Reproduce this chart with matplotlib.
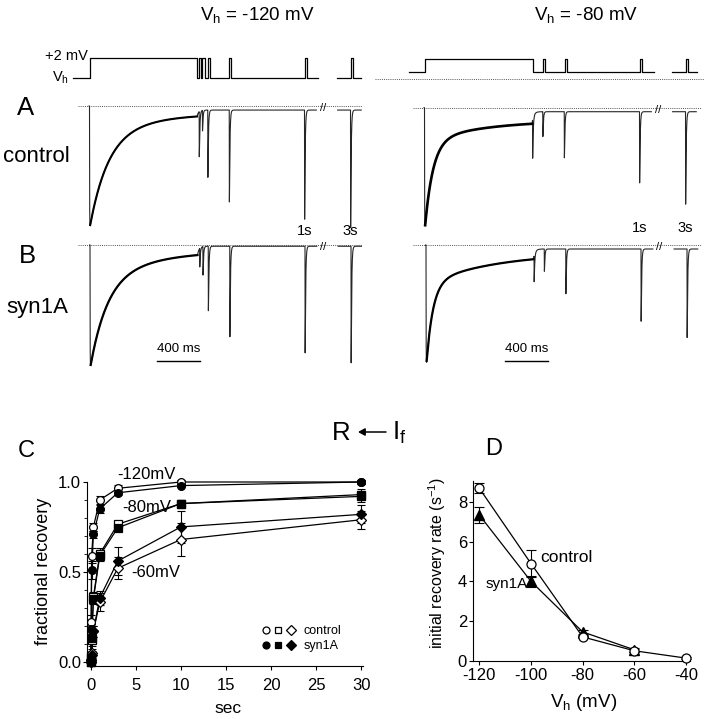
import numpy as np
import matplotlib
matplotlib.use("Agg")
import matplotlib.pyplot as plt
from matplotlib.ticker import MultipleLocator, FormatStrFormatter
from matplotlib.legend_handler import HandlerTuple

plt.rcParams['font.family'] = ['Liberation Sans', 'DejaVu Sans']
plt.rcParams['mathtext.fontset'] = 'custom'
plt.rcParams['mathtext.rm'] = 'Liberation Sans'
plt.rcParams['mathtext.it'] = 'Liberation Sans:italic'
plt.rcParams['mathtext.bf'] = 'Liberation Sans:bold'
plt.rcParams['mathtext.default'] = 'regular'
plt.rcParams['axes.unicode_minus'] = False

# ================= DATA =================
# ---- panel C : fractional recovery vs time (s)
rec_time_s = [0.02, 0.05, 0.1, 0.3, 1, 3, 10, 30]
ctrl_120 = [0.02, 0.22, 0.59, 0.75, 0.90, 0.965, 1.0, 1.0]
ctrl_120_err = [0.01, 0.04, 0.04, 0.02, 0.02, 0.02, 0.01, 0.01]
syn_120 = [0.01, 0.18, 0.51, 0.71, 0.85, 0.94, 0.98, 1.0]
syn_120_err = [0.01, 0.03, 0.05, 0.02, 0.02, 0.01, 0.01, 0.01]
ctrl_80 = [0.0, 0.03, 0.12, 0.36, 0.60, 0.765, 0.88, 0.93]
ctrl_80_err = [0.01, 0.02, 0.03, 0.03, 0.03, 0.02, 0.02, 0.03]
syn_80 = [0.0, 0.02, 0.13, 0.35, 0.59, 0.745, 0.88, 0.92]
syn_80_err = [0.01, 0.02, 0.03, 0.03, 0.03, 0.02, 0.02, 0.03]
ctrl_60 = [0.0, 0.01, 0.05, 0.17, 0.33, 0.52, 0.68, 0.79]
ctrl_60_err = [0.01, 0.01, 0.02, 0.03, 0.05, 0.06, 0.09, 0.05]
syn_60 = [0.0, 0.01, 0.04, 0.17, 0.355, 0.56, 0.75, 0.82]
syn_60_err = [0.01, 0.01, 0.02, 0.03, 0.04, 0.08, 0.09, 0.05]

# ---- panel D : initial recovery rate vs holding potential
vh_ctrl = [-120, -100, -80, -60, -40]
rate_ctrl = [8.7, 4.9, 1.2, 0.5, 0.13]
rate_ctrl_err = [0.27, 0.67, 0.08, 0.08, 0.05]
vh_syn = [-120, -100, -80, -60]
rate_syn = [7.35, 4.0, 1.45, 0.55]
rate_syn_err = [0.4, 0.27, 0.08, 0.1]

# ---- panels A/B : protocol & current traces (normalised current, peak = -1)
cond_ms = 1000            # conditioning pulse duration
pulse_ms = 20             # test pulse width
cond_mV = 2
vh_left_mV = -120
vh_right_mV = -80
left_tests_ms = [20, 50, 100, 300, 1000, 3000]
right_tests_ms = [5, 100, 300, 1000, 3000]
right_pulses_ms = [100, 300, 1000, 3000]
A_left_depth = [0.40, 0.20, 0.58, 0.78, 0.92, 0.99]
B_left_depth = [0.16, 0.24, 0.53, 0.74, 0.87, 0.95]
A_right_depth = [0.34, 0.23, 0.40, 0.60, 0.77]
B_right_depth = [0.24, 0.21, 0.39, 0.61, 0.74]
# inactivation decay: fast amp, tau fast (ms), slow amp, tau slow (ms), steady, settled
A_left_decay = [0.74, 167, 0.20, 465, 0.06, 0.033]
B_left_decay = [0.72, 158, 0.24, 558, 0.04, 0.010]
A_right_decay = [0.73, 74, 0.17, 558, 0.10, 0.032]
B_right_decay = [0.69, 60, 0.25, 651, 0.06, 0.032]
break_shift_ms = 1572     # time removed at the axis break

# ================= FIGURE =================
W, H = 704, 719
fig = plt.figure(figsize=(W / 100, H / 100), dpi=100)
K = 0.1075  # px per ms


def px_box(x0, x1, y0, y1):
    return [x0 / W, 1 - y1 / H, (x1 - x0) / W, (y1 - y0) / H]


def ftext(x, y, s, **kw):
    return fig.text(x / W, 1 - y / H, s, **kw)


tau = np.arange(0, 60, 0.25)
_sh = (1 - np.exp(-tau / 0.5)) * np.exp(-tau / 5.0)
spike_shape = _sh / _sh.max()


def make_trace(decay, tests, depths):
    fa, tf, sa, ts, ss, settled = decay
    T = cond_ms
    end_level = fa * np.exp(-T / tf) + sa * np.exp(-T / ts) + ss

    def base(t):
        i = np.zeros_like(t)
        on = (t >= 0) & (t < T)
        tt = t[on]
        i[on] = -(fa * np.exp(-tt / tf) + sa * np.exp(-tt / ts) + ss) * (1 - np.exp(-tt / 1.0))
        post = t >= T
        i[post] = -(settled + (end_level - settled) * np.exp(-(t[post] - T) / 15.0))
        for tst, d in zip(tests, depths):
            t_on = T + tst
            if t_on < t[0] or t_on > t[-1]:
                continue
            j0 = np.searchsorted(t, t_on)
            n = min(len(spike_shape), len(t) - j0)
            i[j0:j0 + n] -= (d - settled) * spike_shape[:n]
        return i

    t1 = np.arange(-4, T + 1110, 0.25)
    t2 = np.arange(T + 2880, T + 3100, 0.25)
    return t1, base(t1), t2 - break_shift_ms, base(t2)


def trace_axes(x0, x1, y0, y1, t0_px, yb, yp):
    ax = fig.add_axes(px_box(x0, x1, y0, y1))
    ax.set_xlim((x0 - t0_px) / K, (x1 - t0_px) / K)
    ax.set_ylim(-(y1 - yb) / (yp - yb), -(y0 - yb) / (yp - yb))
    ax.axis('off')
    return ax


def draw_trace(ax, decay, tests, depths, lw_decay):
    t1, i1, t2, i2 = make_trace(decay, tests, depths)
    ax.axhline(0, color='#555555', lw=0.7, ls=(0, (1, 1.2)))
    ax.plot(t1, i1, color='#262626', lw=0.8)
    ax.plot(t2, i2, color='#262626', lw=0.8)
    m = (t1 > 6) & (t1 < cond_ms)
    ax.plot(t1[m], i1[m], color='black', lw=lw_decay)
    ax.text(cond_ms + 1170, -0.02, '//', fontsize=8, ha='center', va='center')


def protocol_axes(x0, x1, t0_px, vh, pulses, y_cond):
    ax = fig.add_axes(px_box(x0, x1, 45, 90))
    ax.set_xlim((x0 - t0_px) / K, (x1 - t0_px) / K)
    s = 20 / 122.0
    ax.set_ylim(cond_mV - (90 - y_cond) / s, cond_mV + (y_cond - 45) / s)
    ax.axis('off')
    T = cond_ms
    ts = [-150, 0, 0, T, T]
    vs = [vh, vh, cond_mV, cond_mV, vh]
    for p in pulses:
        if p < 1500:
            ts += [T + p, T + p, T + p + pulse_ms, T + p + pulse_ms]
            vs += [vh, cond_mV, cond_mV, vh]
    ts += [T + 1130]
    vs += [vh]
    ax.plot(ts, vs, color='black', lw=0.9)
    ts2 = [T + 2870 - break_shift_ms]
    vs2 = [vh]
    for p in pulses:
        if p >= 1500:
            q = T + p - break_shift_ms
            ts2 += [q, q, q + pulse_ms, q + pulse_ms]
            vs2 += [vh, cond_mV, cond_mV, vh]
    ts2 += [T + 3100 - break_shift_ms]
    vs2 += [vh]
    ax.plot(ts2, vs2, color='black', lw=0.9)
    return ax


# ---- protocols
pl = protocol_axes(60, 365, 89.5, vh_left_mV, left_tests_ms, 58)
pr = protocol_axes(375, 704, 425, vh_right_mV, right_pulses_ms, 58.7)
pr.axhline(vh_left_mV, color='#555555', lw=0.7, ls=(0, (1, 1.2)))

# ---- traces
axAL = trace_axes(78, 362, 95, 245, 89.5, 106, 229)
draw_trace(axAL, A_left_decay, left_tests_ms, A_left_depth, 1.5)
axBL = trace_axes(78, 362, 238, 375, 90, 245, 369)
draw_trace(axBL, B_left_decay, left_tests_ms, B_left_depth, 1.6)
axAR = trace_axes(413, 702, 95, 245, 424.5, 107.7, 233)
draw_trace(axAR, A_right_decay, right_tests_ms, A_right_depth, 1.9)
axBR = trace_axes(413, 702, 238, 375, 426, 245, 370)
draw_trace(axBR, B_right_decay, right_tests_ms, B_right_depth, 1.6)

# 1s / 3s labels
for ax, y in [(axAL, -1.05), (axAR, -0.99)]:
    ax.text(cond_ms + 1000, y, '1s', fontsize=10.5, ha='center', va='baseline')
    ax.text(cond_ms + 3000 - break_shift_ms, y, '3s', fontsize=10.5, ha='center', va='baseline')

# scale bars 400 ms
for ax, t_start, yv in [(axBL, 623, -0.935), (axBR, 735, -0.928)]:
    ax.plot([t_start, t_start + 400], [yv, yv], color='black', lw=1.0)
    ax.text(t_start + 200, yv + 0.07, '400 ms', fontsize=9.5, ha='center', va='baseline')

# ---- header texts
ftext(257, 20, 'V$_h$ = -120 mV', fontsize=13.5, ha='center', va='baseline')
ftext(586, 20, 'V$_h$ = -80 mV', fontsize=13.5, ha='center', va='baseline')
ftext(88, 60, '+2 mV', fontsize=10.5, ha='right', va='baseline')
ftext(69, 82, 'V$_h$', fontsize=10.5, ha='right', va='baseline')
ftext(26, 115, 'A', fontsize=18.5, ha='center', va='baseline')
ftext(36, 162, 'control', fontsize=16, ha='center', va='baseline')
ftext(27, 263, 'B', fontsize=18.5, ha='center', va='baseline')
ftext(37, 313, 'syn1A', fontsize=16, ha='center', va='baseline')
ftext(341.5, 440, 'R', fontsize=18.5, ha='center', va='baseline')
ftext(392, 440, 'I$_f$', fontsize=18.5, ha='left', va='baseline')
fig.add_artist(matplotlib.patches.FancyArrowPatch(
    (386 / W, 1 - 432 / H), (358 / W, 1 - 432 / H), transform=fig.transFigure,
    arrowstyle='-|>,head_length=4,head_width=2.2', lw=1.1, color='black',
    shrinkA=0, shrinkB=0))
ftext(26, 457, 'C', fontsize=17, ha='center', va='baseline')
ftext(494, 455, 'D', fontsize=17, ha='center', va='baseline')

# ================= PANEL C =================
axC = fig.add_axes(px_box(87.3, 363, 482, 666))
axC.set_xlim(-0.38, 30.2)
axC.set_ylim(-0.024, 1.0)
series_C = [
    (ctrl_120, ctrl_120_err, 'o', 'white'),
    (syn_120, syn_120_err, 'o', 'black'),
    (ctrl_80, ctrl_80_err, 's', 'white'),
    (syn_80, syn_80_err, 's', 'black'),
    (ctrl_60, ctrl_60_err, 'D', 'white'),
    (syn_60, syn_60_err, 'D', 'black'),
]
for vals, errs, mk, fc in series_C:
    axC.errorbar(rec_time_s, vals, yerr=errs, fmt='none', ecolor='black',
                 elinewidth=0.8, capsize=3, capthick=0.8, clip_on=False, zorder=2)
    axC.plot(rec_time_s, vals, color='black', lw=0.9, zorder=3, clip_on=False)
for vals, errs, mk, fc in series_C:
    ms = 5.6 if mk != 'D' else 4.8
    axC.plot(rec_time_s, vals, ls='none', marker=mk, ms=ms, mfc=fc, mec='black',
             mew=0.9, zorder=4, clip_on=False)
axC.spines['top'].set_visible(False)
axC.spines['right'].set_visible(False)
for sp in axC.spines.values():
    sp.set_linewidth(0.8)
axC.xaxis.set_major_locator(MultipleLocator(5))
axC.yaxis.set_major_locator(MultipleLocator(0.5))
axC.yaxis.set_minor_locator(MultipleLocator(0.1))
axC.yaxis.set_major_formatter(FormatStrFormatter('%.1f'))
axC.tick_params(axis='both', which='major', direction='out', length=3, width=0.8, labelsize=12)
axC.tick_params(axis='y', which='minor', direction='out', length=2, width=0.6)
axC.tick_params(axis='x', pad=5.5)
axC.tick_params(axis='y', pad=1.5)
axC.set_xlabel('sec', fontsize=12.5)
axC.xaxis.set_label_coords((228 - 87.3) / 275.7, (666 - 713) / 184)
axC.xaxis.label.set_va('baseline')
axC.set_ylabel('fractional recovery', fontsize=13)
axC.yaxis.set_label_coords((43.5 - 87.3) / 275.7, (666 - 571) / 184)
axC.yaxis.label.set_va('center')
axC.text(2.92, 1.017, '-120mV', fontsize=12, va='baseline')
axC.text(3.48, 0.834, '-80mV', fontsize=12, va='baseline')
axC.text(4.48, 0.472, '-60mV', fontsize=12, va='baseline')

hc = [axC.plot([], [], ls='none', marker=m, ms=5, mfc='white', mec='black', mew=0.9)[0]
      for m in ['o', 's', 'D']]
hs = [axC.plot([], [], ls='none', marker=m, ms=5, mfc='black', mec='black', mew=0.9)[0]
      for m in ['o', 's', 'D']]
axC.legend([tuple(hc), tuple(hs)], ['control', 'syn1A'],
           handler_map={tuple: HandlerTuple(ndivide=None, pad=0.35)},
           frameon=False, fontsize=9, loc='lower left',
           bbox_to_anchor=((262 - 87.3) / 275.7, (666 - 652) / 184),
           borderaxespad=0, borderpad=0, handlelength=2.6, handletextpad=0.7,
           labelspacing=0.25)

# ================= PANEL D =================
axD = fig.add_axes(px_box(473.3, 690, 481, 661))
axD.set_xlim(-122.3, -38.5)
axD.set_ylim(-0.015, 9.06)
axD.errorbar(vh_ctrl, rate_ctrl, yerr=rate_ctrl_err, fmt='none', ecolor='black',
             elinewidth=0.8, capsize=3.5, capthick=0.8, clip_on=False)
axD.errorbar(vh_syn, rate_syn, yerr=rate_syn_err, fmt='none', ecolor='black',
             elinewidth=0.8, capsize=3.5, capthick=0.8, clip_on=False)
axD.plot(vh_ctrl, rate_ctrl, color='black', lw=0.9, clip_on=False)
axD.plot(vh_syn, rate_syn, color='black', lw=0.9, clip_on=False)
axD.plot(vh_syn, rate_syn, ls='none', marker='^', ms=6.5, mfc='black', mec='black',
         clip_on=False, zorder=4)
axD.plot(vh_ctrl, rate_ctrl, ls='none', marker='o', ms=6.5, mfc='white', mec='black',
         mew=0.9, clip_on=False, zorder=5)
axD.spines['top'].set_visible(False)
axD.spines['right'].set_visible(False)
for sp in axD.spines.values():
    sp.set_linewidth(0.8)
axD.xaxis.set_major_locator(MultipleLocator(20))
axD.yaxis.set_major_locator(MultipleLocator(2))
axD.tick_params(axis='both', which='major', direction='out', length=3, width=0.8, labelsize=12)
axD.tick_params(axis='x', pad=2)
axD.tick_params(axis='y', pad=1.5)
axD.set_xlabel('V$_h$ (mV)', fontsize=13.5)
axD.xaxis.set_label_coords((584 - 473.3) / 216.7, (661 - 706.7) / 180)
axD.xaxis.label.set_va('baseline')
axD.set_ylabel('initial recovery rate (s$^{-1}$)', fontsize=11.5)
axD.yaxis.set_label_coords((437.5 - 473.3) / 216.7, (661 - 563) / 180)
axD.yaxis.label.set_va('center')
axD.text(-96.5, 4.99, 'control', fontsize=12.5, va='baseline')
axD.text(-117.4, 3.66, 'syn1A', fontsize=11, va='baseline')

fig.savefig('out.png', dpi=100)
